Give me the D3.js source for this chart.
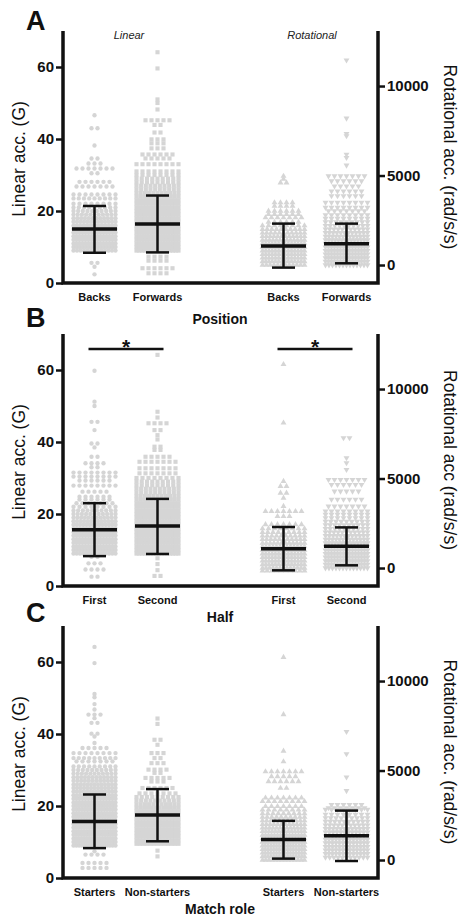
<!DOCTYPE html>
<html>
<head>
<meta charset="utf-8">
<script src="https://cdn.jsdelivr.net/npm/d3@7"></script>
<style>
body { margin: 0; background: #fff; }
text { font-family: "Liberation Sans", Arial, sans-serif; }
</style>
</head>
<body>
<div id="chart"></div>
<script>
// ---- data ----
var panelLetters = ['A', 'B', 'C'];
var groupTitles = ['Position', 'Half', 'Match role'];
var categoryLabels = [['Backs', 'Forwards'], ['First', 'Second'], ['Starters', 'Non-starters']];
var leftTitle = 'Linear acc. (G)';
var rightTitles = ['Rotational acc. (rad/s/s)', 'Rotational acc (rad/s/s)', 'Rotational acc. (rad/s/s)'];
var linearTicks = [0, 20, 40, 60];
var rotTicks = [0, 5000, 10000];

// mean and mean +/- SD bars
var linearMean = [[15.0, 16.4], [15.6, 16.7], [15.7, 17.5]];
var linearLow  = [[8.4, 8.5], [8.3, 8.9], [8.3, 10.2]];
var linearHigh = [[21.4, 24.3], [23.0, 24.2], [23.2, 24.7]];
var rotMean = [[1060, 1195], [1080, 1210], [1150, 1356]];
var rotLow  = [[-145, 95], [-130, 150], [78, -55]];
var rotHigh = [[2313, 2313], [2290, 2270], [2189, 2761]];

// point rows: [value, number of impacts plotted on that row]
var linBacks = [[2.4,1],[4.5,1],[5.6,2],[9,13],[10,15],[11,15],[12,15],[13,15],[14,15],[15,15],[16,14],[17,13],[18,12],[19,11],[20,10],[21,9],[22,8],[23.5,9],[24.6,8],[26.8,7],[28.1,6],[30.5,2],[31.8,7],[33.2,3],[34.6,2],[38.2,1],[43,2],[46.6,1]];
var linForwards = [[2.7,4],[4.1,6],[6.2,4],[7.3,4],[9,16],[10,17],[11,17],[12,17],[13,17],[14,17],[15,17],[16,17],[17,16],[18,16],[19,16],[20,15],[21,14],[22,14],[23,13],[24,12],[25,11],[26,10],[27,10],[28,9],[29,9],[30,8],[31,8],[33,8],[34.6,5],[35.7,6],[37.4,3],[38.8,3],[39.9,3],[41.8,2],[43.9,2],[45.2,5],[48.2,1],[50,1],[51,1],[59.6,1],[64.1,1]];
var rotBacks = [[0,12],[200,14],[400,14],[600,14],[800,14],[1000,14],[1200,14],[1400,13],[1600,12],[1800,11],[2000,10],[2200,8],[2400,6],[2650,7],[2830,6],[3020,6],[3300,4],[3490,4],[4600,2],[4800,1],[4970,1]];
var rotForwards = [[0,13],[200,15],[400,15],[600,15],[800,15],[1000,15],[1200,15],[1400,14],[1600,13],[1800,12],[2000,11],[2200,10],[2400,9],[2600,8],[2800,8],[3020,7],[3210,8],[3490,8],[3860,6],[4130,6],[4410,5],[4690,6],[4970,7],[5570,1],[6000,1],[6180,1],[7210,1],[7340,1],[8200,1],[11450,1]];

var linFirst = [[2.6,2],[4.6,4],[6.3,3],[8.1,2],[9,14],[10,15],[11,15],[12,15],[13,15],[14,15],[15,15],[16,14],[17,14],[18,13],[19,12],[20,11],[21,10],[22,8],[23,7],[24,6],[24.8,6],[26.2,5],[27.9,8],[29.3,6],[30.4,8],[31.5,8],[33,2],[34.1,4],[35.9,2],[38.5,1],[39.6,2],[43.3,1],[45.6,2],[50,1],[51.2,1],[59.8,1]];
var linSecond = [[2.8,2],[4.4,1],[6.1,1],[7.7,1],[9,16],[10,17],[11,17],[12,17],[13,17],[14,17],[15,17],[16,17],[17,16],[18,16],[19,16],[20,15],[21,15],[22,14],[23,13],[24,12],[25,11],[26,10],[27,10],[28,9],[29,9],[30,8],[31.3,7],[32.7,7],[34.5,7],[35.9,5],[37.8,2],[38.7,2],[40.7,1],[41.9,1],[43.3,2],[45.2,4],[46.8,1],[48.4,1],[64.2,1]];
var rotFirst = [[-150,10],[0,13],[200,14],[400,14],[600,14],[800,14],[1000,14],[1200,13],[1400,12],[1600,11],[1800,10],[2000,9],[2200,8],[2430,7],[2890,3],[3170,7],[3450,1],[3915,1],[4195,2],[4570,2],[4850,1],[8110,1],[11380,1]];
var rotSecond = [[0,13],[200,15],[400,15],[600,15],[800,15],[1000,15],[1200,15],[1400,14],[1600,13],[1800,12],[2000,11],[2200,10],[2400,10],[2600,9],[2800,8],[2990,8],[3170,8],[3450,7],[3830,6],[4290,5],[4660,6],[4940,7],[5500,1],[5870,1],[6150,1],[7270,2]];

var linStarters = [[2.8,5],[4.2,5],[6.5,4],[7.4,1],[9,16],[10,17],[11,17],[12,17],[13,17],[14,17],[15,17],[16,17],[17,17],[18,16],[19,16],[20,16],[21,15],[22,15],[23,14],[24,14],[25,13],[26,13],[27,12],[28,12],[29,11],[30,10],[31,9],[32.4,7],[33.3,9],[34.7,8],[36.1,5],[37.5,1],[39.3,1],[40.1,2],[43.1,2],[44.4,1],[45.4,3],[46.8,1],[48.3,1],[50.2,1],[51.1,1],[59.7,1],[64.2,1]];
var linNonStarters = [[6,1],[7.6,1],[9.5,13],[10.5,14],[11.5,14],[12.5,14],[13.5,14],[14.5,14],[15.5,14],[16.5,14],[17.5,13],[18.5,13],[19.5,12],[20.5,11],[21.5,10],[22.5,9],[23.5,7],[25,6],[26.8,3],[27.8,5],[29.2,2],[30.1,4],[31.9,3],[33.3,2],[34.7,3],[37,1],[38.4,2],[42.8,1],[44.3,1]];
var rotStarters = [[0,14],[200,16],[400,16],[600,16],[800,16],[1000,16],[1200,15],[1400,15],[1600,14],[1800,13],[2000,12],[2200,11],[2400,10],[2600,9],[2800,8],[3000,7],[3280,8],[3470,7],[4020,2],[4390,6],[4670,5],[4940,7],[5500,1],[6090,1],[8130,1],[11330,1]];
var rotNonStarters = [[150,11],[350,13],[550,13],[750,13],[950,13],[1150,13],[1350,13],[1550,12],[1750,12],[1950,11],[2150,10],[2350,9],[2550,8],[2820,8],[2910,7],[3090,6],[3870,1],[4630,1],[5930,1],[7170,1]];

var linearRows = [[linBacks, linForwards], [linFirst, linSecond], [linStarters, linNonStarters]];
var rotRows = [[rotBacks, rotForwards], [rotFirst, rotSecond], [rotStarters, rotNonStarters]];

// ---- layout ----
var W = 461, H = 917;
var axisLeft = 63, axisRight = 378, plotH = 252;
var baseY = [283, 586, 878];
var titleY = [324, 622, 914];
var letterY = [30, 327, 622];
var grey = '#d5d5d5', ink = '#111';

var svg = d3.select('#chart').append('svg')
  .attr('width', W)
  .attr('height', H)
  .style('background', '#fff');

var x = d3.scaleBand()
  .domain(['l0', 'l1', 'gap', 'r0', 'r1'])
  .range([axisLeft, axisRight]);
var cx = function(k) { return x(k) + x.bandwidth() / 2; };

var symCircle = d3.symbol().type(d3.symbolCircle).size(15)();
var symSquare = d3.symbol().type(d3.symbolSquare).size(17)();
var symTri = d3.symbol().type(d3.symbolTriangle).size(15)();

// spread each row sideways, squeezing crowded rows into the column width
function layoutRows(rows, maxW) {
  var pts = [];
  rows.forEach(function(r) {
    var n = r[1];
    var step = n > 1 ? Math.min(6, maxW / (n - 1)) : 0;
    for (var i = 0; i < n; i++) pts.push({v: r[0], dx: (i - (n - 1) / 2) * step});
  });
  return pts;
}

function errorBar(g, xc, y, mean, lo, hi) {
  g.append('line').attr('x1', xc).attr('x2', xc).attr('y1', y(hi)).attr('y2', y(lo))
    .attr('stroke', ink).attr('stroke-width', 2.5);
  [lo, hi].forEach(function(v) {
    g.append('line').attr('x1', xc - 11.5).attr('x2', xc + 11.5).attr('y1', y(v)).attr('y2', y(v))
      .attr('stroke', ink).attr('stroke-width', 2.5);
  });
  g.append('line').attr('x1', xc - 22.5).attr('x2', xc + 22.5).attr('y1', y(mean)).attr('y2', y(mean))
    .attr('stroke', ink).attr('stroke-width', 3.5);
}

panelLetters.forEach(function(letter, p) {
  var y0 = baseY[p];
  var yL = d3.scaleLinear().domain([0, 70]).range([y0, y0 - plotH]);
  var yR = d3.scaleLinear().domain([-1005, 13075]).range([y0, y0 - plotH]);
  var g = svg.append('g');

  // points
  ['l0', 'l1'].forEach(function(k, i) {
    g.append('g').selectAll('path')
      .data(layoutRows(linearRows[p][i], 42))
      .enter().append('path')
      .attr('d', i === 0 ? symCircle : symSquare)
      .attr('fill', grey)
      .attr('transform', function(d) { return 'translate(' + (cx(k) + d.dx) + ',' + yL(d.v) + ')'; });
  });
  ['r0', 'r1'].forEach(function(k, i) {
    g.append('g').selectAll('path')
      .data(layoutRows(rotRows[p][i], 42))
      .enter().append('path')
      .attr('d', symTri)
      .attr('fill', grey)
      .attr('transform', function(d) {
        return 'translate(' + (cx(k) + d.dx) + ',' + yR(d.v) + ')' + (i === 1 ? ' rotate(180)' : '');
      });
  });

  // mean +/- SD
  errorBar(g, cx('l0'), yL, linearMean[p][0], linearLow[p][0], linearHigh[p][0]);
  errorBar(g, cx('l1'), yL, linearMean[p][1], linearLow[p][1], linearHigh[p][1]);
  errorBar(g, cx('r0'), yR, rotMean[p][0], rotLow[p][0], rotHigh[p][0]);
  errorBar(g, cx('r1'), yR, rotMean[p][1], rotLow[p][1], rotHigh[p][1]);

  // axes
  var la = g.append('g').attr('transform', 'translate(' + axisLeft + ',0)')
    .call(d3.axisLeft(yL).tickValues(linearTicks).tickSize(7).tickPadding(2));
  var ra = g.append('g').attr('transform', 'translate(' + axisRight + ',0)')
    .call(d3.axisRight(yR).tickValues(rotTicks).tickFormat(d3.format('d')).tickSize(7).tickPadding(2));
  [la, ra].forEach(function(a) {
    a.select('.domain').remove();
    a.selectAll('.tick line').attr('stroke', ink).attr('stroke-width', 2.5);
    a.selectAll('.tick text').attr('fill', ink)
      .style('font-family', '"Liberation Sans", Arial, sans-serif')
      .style('font-size', '15px').style('font-weight', 'bold');
  });
  g.append('path')
    .attr('d', 'M' + axisLeft + ',' + (y0 - plotH) + 'V' + y0 + 'H' + axisRight + 'V' + (y0 - plotH))
    .attr('fill', 'none').attr('stroke', ink).attr('stroke-width', 3.5);

  // category labels
  ['l0', 'l1', 'r0', 'r1'].forEach(function(k, i) {
    g.append('text')
      .attr('x', cx(k)).attr('y', y0 + 18)
      .attr('text-anchor', 'middle')
      .style('font-size', '11px').style('font-weight', 'bold').attr('fill', ink)
      .text(categoryLabels[p][i % 2]);
  });

  g.append('text').attr('x', 220).attr('y', titleY[p]).attr('text-anchor', 'middle')
    .style('font-size', '14px').style('font-weight', 'bold').attr('fill', ink)
    .text(groupTitles[p]);

  g.append('text').attr('x', 26).attr('y', letterY[p])
    .style('font-size', '27px').style('font-weight', 'bold').attr('fill', ink)
    .text(letter);

  var yc = y0 - plotH / 2;
  g.append('text').attr('transform', 'translate(19,' + (yc + 2) + ') rotate(-90)')
    .attr('text-anchor', 'middle').attr('dy', '0.35em')
    .style('font-size', '17.5px').attr('fill', ink).text(leftTitle);
  g.append('text').attr('transform', 'translate(450,' + yc + ') rotate(90)')
    .attr('text-anchor', 'middle').attr('dy', '0.35em')
    .style('font-size', '17.5px').attr('fill', ink).text(rightTitles[p]);

  if (p === 0) {
    g.append('text').attr('x', (cx('l0') + cx('l1')) / 2 + 3).attr('y', 39).attr('text-anchor', 'middle')
      .style('font-size', '11px').style('font-style', 'italic').attr('fill', '#222').text('Linear');
    g.append('text').attr('x', (cx('r0') + cx('r1')) / 2 - 3).attr('y', 39).attr('text-anchor', 'middle')
      .style('font-size', '11px').style('font-style', 'italic').attr('fill', '#222').text('Rotational');
  }

  // significance markers (panel B)
  if (p === 1) {
    [['l0', 'l1'], ['r0', 'r1']].forEach(function(pair) {
      var x1 = cx(pair[0]) - 6, x2 = cx(pair[1]) + 6;
      g.append('line').attr('x1', x1).attr('x2', x2).attr('y1', 349).attr('y2', 349)
        .attr('stroke', ink).attr('stroke-width', 2.5);
      g.append('text').attr('x', (x1 + x2) / 2).attr('y', 354).attr('text-anchor', 'middle')
        .style('font-size', '21px').style('font-weight', 'bold').attr('fill', ink).text('*');
    });
  }
});
</script>
</body>
</html>
